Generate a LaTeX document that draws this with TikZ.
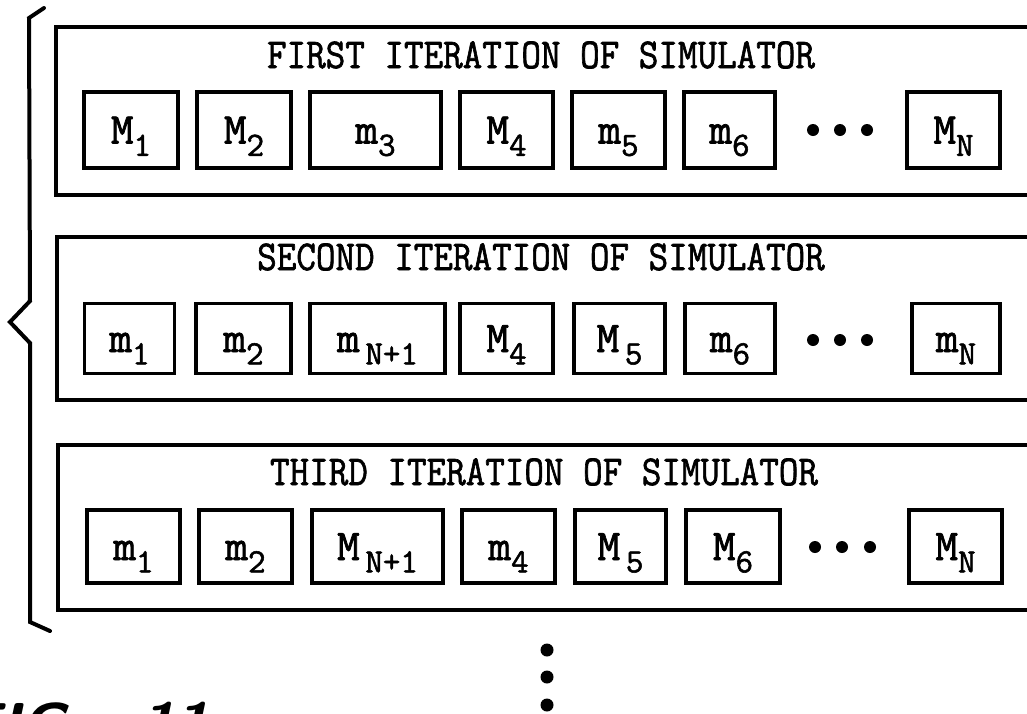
\documentclass[tikz,border=0pt]{standalone}
\usepackage{fontspec}
\newfontfamily\twfont{Latin Modern Mono}[FakeBold=1.6]
\newcommand{\lbl}[2]{#1\raisebox{-0.28em}{\fontsize{34}{34}\selectfont #2}}
\newcommand{\ttl}[1]{\scalebox{1}[1.12]{#1}}
\tikzset{
  outerbox/.style={draw, line width=4.5pt, inner sep=0pt},
  inbox/.style={draw, line width=3.8pt, inner sep=0pt, text height=27pt, text depth=0pt,
                font=\fontsize{44}{44}\selectfont\twfont},
  title/.style={anchor=base, inner sep=0pt, font=\fontsize{38}{38}\selectfont\twfont},
  bdot/.style={circle, fill, inner sep=0pt, minimum size=12pt},
  vdot/.style={circle, fill, inner sep=0pt, minimum size=13pt},
  bracket/.style={line width=4pt, line join=miter, line cap=round},
}
\begin{document}
\begin{tikzpicture}[x=1pt, y=-1pt]
\useasboundingbox (0,0) rectangle (1027,713);
\clip (0,0) rectangle (1027,713);
\fill[white] (0,0) rectangle (1027,713);

% outer boxes (extend past the right edge)
\node[outerbox, minimum width=990pt, minimum height=168pt] (it1) at (551,111) {};
\node[outerbox, minimum width=990pt, minimum height=163pt] (it2) at (552,318.5) {};
\node[outerbox, minimum width=990pt, minimum height=165pt] (it3) at (553,527.5) {};

% titles
\node[title] (t1) at (541,68) {\ttl{FIRST ITERATION OF SIMULATOR}};
\node[title] (t2) at (541,270) {\ttl{SECOND ITERATION OF SIMULATOR}};
\node[title] (t3) at (544,485) {\ttl{THIRD ITERATION OF SIMULATOR}};

% row 1
\begin{scope}[every node/.append style={minimum height=76pt}]
\node[inbox, minimum width=94pt]  (a1) at (131,130)   {\lbl{M}{1}};
\node[inbox, minimum width=94pt]  (a2) at (244,130)   {\lbl{M}{2}};
\node[inbox, minimum width=131pt] (a3) at (375.5,130) {\lbl{m}{3}};
\node[inbox, minimum width=93pt]  (a4) at (506.5,130) {\lbl{M}{4}};
\node[inbox, minimum width=93pt]  (a5) at (618.5,130) {\lbl{m}{5}};
\node[inbox, minimum width=91pt]  (a6) at (729.5,130) {\lbl{m}{6}};
\node[inbox, minimum width=93pt]  (aN) at (953.5,130) {\lbl{M}{N}};
\end{scope}
\node[bdot] (ad1) at (813,130) {};
\node[bdot] (ad2) at (840,130) {};
\node[bdot] (ad3) at (867,130) {};

% row 2
\begin{scope}[every node/.append style={minimum height=70pt}]
\node[inbox, minimum width=90pt]  (b1) at (129.5,338.5) {\lbl{m}{1}};
\node[inbox, minimum width=95pt]  (b2) at (243.5,338.5) {\lbl{m}{2}};
\node[inbox, minimum width=135pt] (b3) at (377.5,338.5) {\lbl{m}{\,N+1}};
\node[inbox, minimum width=93pt]  (b4) at (506.5,338.5) {\lbl{M}{4}};
\node[inbox, minimum width=91pt]  (b5) at (619.5,338.5) {\lbl{M}{\,5}};
\node[inbox, minimum width=90pt]  (b6) at (730,338.5)   {\lbl{m}{6}};
\node[inbox, minimum width=88pt]  (bN) at (956,338.5)   {\lbl{m}{N}};
\end{scope}
\node[bdot] (bd1) at (813,340) {};
\node[bdot] (bd2) at (840,340) {};
\node[bdot] (bd3) at (867,340) {};

% row 3
\begin{scope}[every node/.append style={minimum height=73pt}]
\node[inbox, minimum width=93pt]  (c1) at (133.5,546.5) {\lbl{m}{1}};
\node[inbox, minimum width=93pt]  (c2) at (245.5,546.5) {\lbl{m}{2}};
\node[inbox, minimum width=131pt] (c3) at (377.5,546.5) {\lbl{M}{\,N+1}};
\node[inbox, minimum width=93pt]  (c4) at (508.5,546.5) {\lbl{m}{4}};
\node[inbox, minimum width=91pt]  (c5) at (620.5,546.5) {\lbl{M}{\,5}};
\node[inbox, minimum width=94pt]  (c6) at (733,546.5)   {\lbl{M}{6}};
\node[inbox, minimum width=93pt]  (cN) at (955.5,546.5) {\lbl{M}{N}};
\end{scope}
\node[bdot] (cd1) at (815,547) {};
\node[bdot] (cd2) at (842,547) {};
\node[bdot] (cd3) at (870,547) {};

% vertical continuation dots
\node[vdot] (v1) at (547,650) {};
\node[vdot] (v2) at (547,677) {};
\node[vdot] (v3) at (547,705) {};

% left bracket
\coordinate (bt) at (44,8);
\coordinate (bb) at (50,631);
\draw[bracket] (bt) -- (29,18) -- (30,301) -- (10,322) -- (30,343) -- (30,622) -- (bb);

% figure label (cut off at bottom, as in the reference)
\node[anchor=base west, inner sep=0pt, font=\fontsize{62}{62}\selectfont\sffamily\bfseries\itshape]
  (fig) at (-38,746) {FIG.\hspace{55pt}11};
\end{tikzpicture}
\end{document}
